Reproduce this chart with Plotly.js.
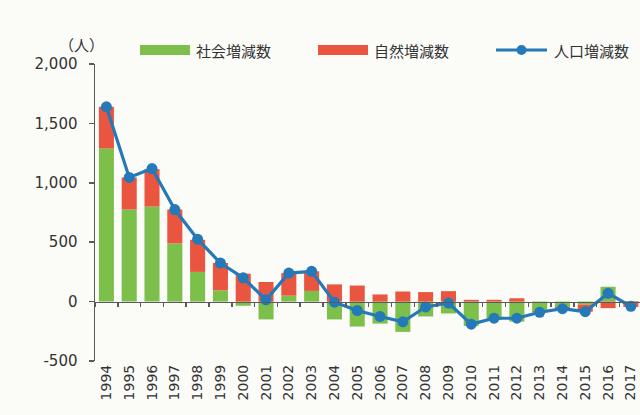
<!DOCTYPE html>
<html>
<head>
<meta charset="utf-8">
<script src="https://cdn.plot.ly/plotly-3.0.1.min.js"></script>
<style>
  html, body { margin: 0; padding: 0; background: #fbfbf8; }
  #chart { width: 640px; height: 415px; }
</style>
</head>
<body>
<div id="chart"></div>
<script>
// 年次別の人口増減（社会増減・自然増減・人口増減）
const years = ['1994','1995','1996','1997','1998','1999','2000','2001','2002','2003','2004','2005',
               '2006','2007','2008','2009','2010','2011','2012','2013','2014','2015','2016','2017'];
const socialChange  = [1290, 775, 800, 490, 250, 95, -35, -150, 50, 90, -150, -210,
                       -185, -255, -125, -100, -205, -155, -168, -80, -45, -25, 125, 5];
const naturalChange = [350, 270, 315, 285, 270, 230, 235, 165, 190, 165, 145, 135,
                       60, 85, 80, 88, 15, 15, 28, -10, -15, -60, -55, -45];
const totalChange   = [1640, 1045, 1120, 775, 525, 325, 200, 15, 240, 255, -5, -75,
                       -125, -170, -45, -12, -190, -140, -140, -90, -60, -85, 70, -40];
const yTickVals = [-500, 0, 500, 1000, 1500, 2000];
const yTickText = ['-500', '0', '500', '1,000', '1,500', '2,000'];
const seriesNames = ['社会増減数', '自然増減数', '人口増減数'];

const GREEN = '#7cbf4a';
const RED = '#e9553f';
const BLUE = '#2479b8';
const AXIS = '#5a5a5a';
const TEXT = '#333333';
const NUM_FONT = 'DejaVu Sans, Verdana, sans-serif';
const JP_FONT = 'Noto Sans CJK JP, sans-serif';

const traces = [
  { type: 'bar', name: seriesNames[0], x: years, y: socialChange,
    marker: { color: GREEN }, xaxis: 'x', yaxis: 'y', hoverinfo: 'x+y+name' },
  { type: 'bar', name: seriesNames[1], x: years, y: naturalChange,
    marker: { color: RED }, xaxis: 'x', yaxis: 'y', hoverinfo: 'x+y+name' },
  { type: 'scatter', mode: 'lines+markers', name: seriesNames[2], x: years, y: totalChange,
    line: { color: BLUE, width: 3.2 }, marker: { color: BLUE, size: 11 },
    xaxis: 'x', yaxis: 'y', hoverinfo: 'x+y+name' },
  // carries the year labels along the bottom edge
  { type: 'scatter', mode: 'markers', x: years, y: totalChange, xaxis: 'x2', yaxis: 'y',
    marker: { opacity: 0 }, showlegend: false, hoverinfo: 'skip' }
];

// hand-drawn legend row (wide swatches)
const L = { l: 95, r: 0, t: 64, b: 54 };
const W = 640, H = 415;
const pw = W - L.l - L.r, ph = H - L.t - L.b;
const px = v => (v - L.l) / pw;
const py = v => (H - L.b - v) / ph;
const legendY = 50;

const shapes = [
  { type: 'rect', xref: 'paper', yref: 'paper', x0: px(140), x1: px(190), y0: py(55), y1: py(45),
    fillcolor: GREEN, line: { width: 0 } },
  { type: 'rect', xref: 'paper', yref: 'paper', x0: px(318), x1: px(368), y0: py(55), y1: py(45),
    fillcolor: RED, line: { width: 0 } },
  { type: 'line', xref: 'paper', yref: 'paper', x0: px(496), x1: px(547), y0: py(legendY), y1: py(legendY),
    line: { color: BLUE, width: 3 } },
  { type: 'circle', xref: 'paper', yref: 'paper', x0: px(516.5), x1: px(526.5), y0: py(legendY + 5), y1: py(legendY - 5),
    fillcolor: BLUE, line: { width: 0 } }
];

const annotations = [
  { text: seriesNames[0], x: px(194), xanchor: 'left' },
  { text: seriesNames[1], x: px(372), xanchor: 'left' },
  { text: seriesNames[2], x: px(552), xanchor: 'left' }
].map(a => Object.assign({
  xref: 'paper', yref: 'paper', y: py(legendY), yanchor: 'middle', showarrow: false,
  font: { family: JP_FONT, size: 15, color: TEXT }
}, a));
annotations.push({
  text: '（人）', xref: 'paper', yref: 'paper', x: px(81), y: py(45),
  xanchor: 'center', yanchor: 'middle', showarrow: false,
  font: { family: JP_FONT, size: 15, color: TEXT }
});

const layout = {
  width: W, height: H,
  margin: L,
  paper_bgcolor: '#fbfbf8',
  plot_bgcolor: '#fbfbf8',
  barmode: 'relative',
  bargap: 0.34,
  showlegend: false,
  xaxis: {
    type: 'category', categoryorder: 'array', categoryarray: years,
    range: [-0.5, 23.4], anchor: 'free', position: 0.2,
    showline: true, linecolor: AXIS, linewidth: 1.5,
    ticks: 'outside', tickson: 'boundaries', ticklen: 4, tickcolor: AXIS, tickwidth: 1.5,
    showticklabels: false, showgrid: false, zeroline: false, fixedrange: true
  },
  xaxis2: {
    type: 'category', categoryorder: 'array', categoryarray: years,
    range: [-0.5, 23.4], overlaying: 'x', anchor: 'y', side: 'bottom',
    showline: false, ticks: '', showgrid: false, zeroline: false,
    tickangle: -90, tickfont: { family: NUM_FONT, size: 14, color: TEXT }, fixedrange: true
  },
  yaxis: {
    range: [-500, 2000], tickvals: yTickVals, ticktext: yTickText,
    showline: true, linecolor: AXIS, linewidth: 1.5,
    ticks: 'outside', ticklen: 5, tickcolor: AXIS, tickwidth: 1.5,
    ticklabelstandoff: 8,
    showgrid: false, zeroline: false,
    tickfont: { family: NUM_FONT, size: 15, color: TEXT }, fixedrange: true
  },
  shapes: shapes,
  annotations: annotations
};

Plotly.newPlot('chart', traces, layout, { displayModeBar: false, staticPlot: true });
</script>
</body>
</html>
